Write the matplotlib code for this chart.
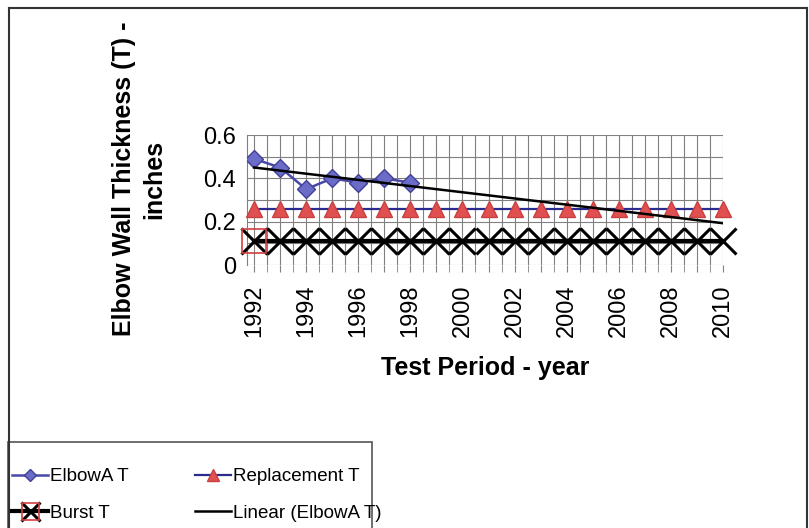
import matplotlib.pyplot as plt
import numpy as np
from matplotlib.lines import Line2D
from matplotlib.patches import Rectangle
from matplotlib.ticker import MultipleLocator

# --- datos ---
years = list(range(1992, 2011))
elbow_years = [1992, 1993, 1994, 1995, 1996, 1997, 1998]
elbow_t = [0.49, 0.45, 0.35, 0.40, 0.38, 0.40, 0.38]
replacement_t = [0.26] * len(years)
burst_t = [0.11] * len(years)
x_labels = [str(y) if y % 2 == 0 else "" for y in years]

plt.rcParams['font.family'] = ['Liberation Sans', 'DejaVu Sans']

fig = plt.figure(figsize=(8.09, 5.28), dpi=100)
ax = fig.add_axes([247 / 809, 1 - 265 / 528, 476 / 809, 130 / 528])

xi = np.arange(len(years))
xe = np.arange(len(elbow_years))

# tendencia lineal de ElbowA T (como Excel)
coef = np.polyfit(xe, elbow_t, 1)
trend = np.polyval(coef, xi)

l_rep, = ax.plot(xi, replacement_t, color='#2b2b8f', lw=1.6, marker='^', ms=12,
                 mfc='#e05050', mec='#c84040', zorder=4, clip_on=False, label='Replacement T')
l_burst, = ax.plot(xi, burst_t, color='black', lw=3, marker='x', ms=19, mew=2.2,
                   zorder=5, clip_on=False, label='Burst T')
l_sq, = ax.plot(xi[:1], burst_t[:1], ls='none', marker='s', ms=17, mfc='none',
                mec='#d04040', mew=1.2, zorder=6, clip_on=False)
l_elb, = ax.plot(xe, elbow_t, color='#4848a8', lw=1.8, marker='D', ms=9,
                 mfc='#6b6bc8', mec='#40409a', zorder=6, label='ElbowA T')
l_lin, = ax.plot(xi, trend, color='black', lw=1.8, zorder=7, label='Linear (ElbowA T)')

ax.set_xlim(-0.27, 18)
ax.set_ylim(0, 0.6)
ax.set_xticks(xi)
ax.set_xticklabels(x_labels, rotation=90, fontsize=17)
ax.xaxis.set_minor_locator(MultipleLocator(0.5))
ax.yaxis.set_minor_locator(MultipleLocator(0.1))
ax.set_yticks([0, 0.2, 0.4, 0.6])
ax.set_yticklabels(['0', '0.2', '0.4', '0.6'], fontsize=17)

ax.grid(True, which='both', color='#808080', lw=0.8)
ax.set_axisbelow(True)
for s in ['top', 'right', 'bottom']:
    ax.spines[s].set_visible(False)
ax.spines['left'].set_color('#808080')
ax.tick_params(axis='x', which='both', length=5, color='#808080', pad=9)
ax.tick_params(axis='y', which='both', length=0, pad=8)

ax.set_xlabel('Test Period - year', fontsize=18, fontweight='bold')
ax.xaxis.set_label_coords(0.5, -0.70)
ax.set_ylabel('Elbow Wall Thickness (T) -\ninches', fontsize=18, fontweight='bold',
              linespacing=1.3)
ax.yaxis.set_label_coords(-0.17, 0.66)

# --- marco exterior del grafico ---
W, H = 809, 528
fig.add_artist(Line2D([9 / W, 807 / W], [1 - 8 / H, 1 - 8 / H], color='#333333', lw=1.5))
fig.add_artist(Line2D([9 / W, 9 / W], [0, 1 - 8 / H], color='#333333', lw=1.5))
fig.add_artist(Line2D([807 / W, 807 / W], [0, 1 - 8 / H], color='#333333', lw=1.5))

# --- leyenda ---
fig.add_artist(Rectangle((8 / W, -0.05), 364 / W, 1 - 442 / H + 0.05, transform=fig.transFigure,
                         fill=False, edgecolor='#555555', lw=1.2))
fig.legend([l_elb, (l_burst, l_sq), l_rep, l_lin],
           ['ElbowA T', 'Burst T', 'Replacement T', 'Linear (ElbowA T)'],
           ncol=2, loc='upper left', bbox_to_anchor=(12 / W, 1 - 468 / H),
           frameon=False, prop={'size': 13.5},
           handlelength=1.9, handletextpad=0.12, columnspacing=3.55, labelspacing=1.05,
           borderaxespad=0, borderpad=0, markerscale=0.72)

fig.savefig('out.png', dpi=100)
